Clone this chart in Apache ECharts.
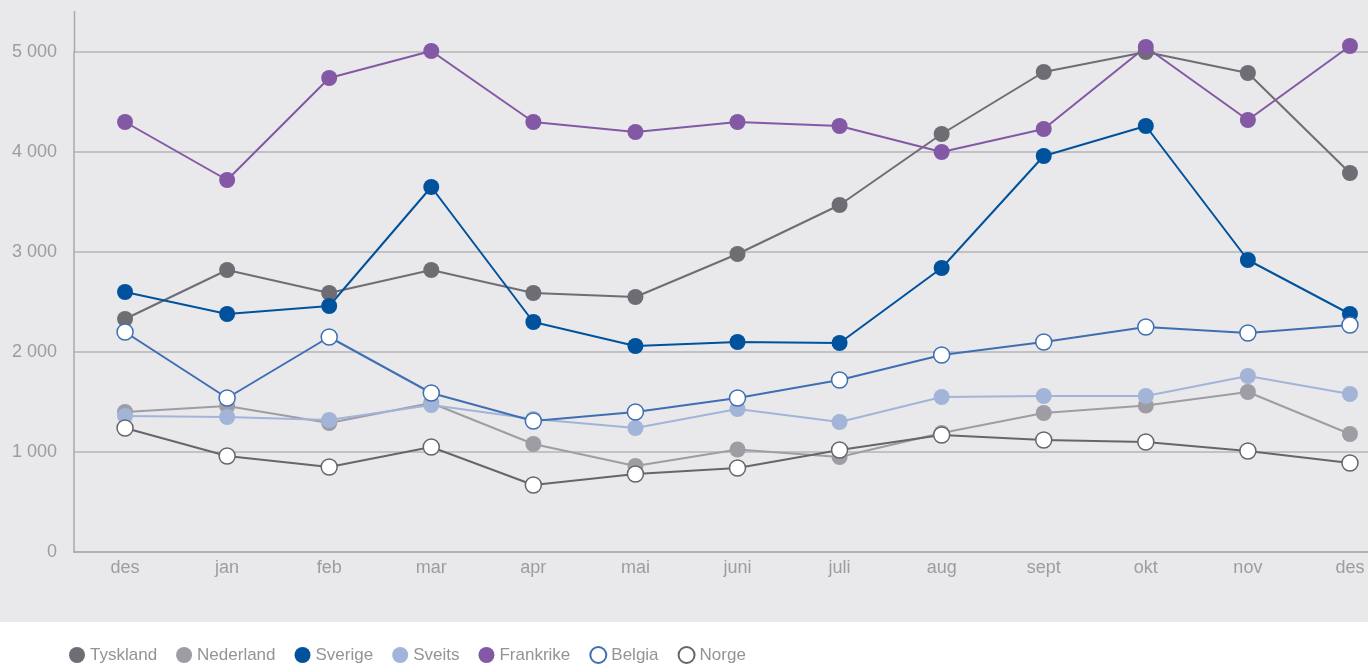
<!DOCTYPE html>
<html>
<head>
<meta charset="utf-8">
<script src="https://cdn.jsdelivr.net/npm/echarts@6/dist/echarts.min.js"></script>
<style>
  html, body { margin: 0; padding: 0; background: #fff; overflow: hidden; }
  /* litt bredere enn vinduet: siste kategori ligger nær høyre kant */
  #chart { width: 1401px; height: 664px; }
</style>
</head>
<body>
<div id="chart"></div>
<script>
// måneder
var months = ['des', 'jan', 'feb', 'mar', 'apr', 'mai', 'juni', 'juli', 'aug', 'sept', 'okt', 'nov', 'des'];
var yTicks = [0, 1000, 2000, 3000, 4000, 5000];

var tyskland  = [2330, 2820, 2590, 2820, 2590, 2550, 2980, 3470, 4180, 4800, 5000, 4790, 3790];
var nederland = [1400, 1460, 1290, 1490, 1080, 860, 1025, 950, 1190, 1390, 1465, 1600, 1180];
var sverige   = [2600, 2380, 2460, 3650, 2300, 2060, 2100, 2090, 2840, 3960, 4260, 2920, 2380];
var sveits    = [1360, 1350, 1320, 1470, 1330, 1240, 1430, 1300, 1550, 1560, 1560, 1760, 1580];
var frankrike = [4300, 3720, 4740, 5010, 4300, 4200, 4300, 4260, 4000, 4230, 5050, 4320, 5060];
var belgia    = [2200, 1540, 2150, 1590, 1310, 1400, 1540, 1720, 1970, 2100, 2250, 2190, 2270];
var norge     = [1240, 960, 850, 1050, 670, 780, 840, 1020, 1170, 1120, 1100, 1010, 890];

var chart = echarts.init(document.getElementById('chart'), null, { renderer: 'canvas' });

var labelColor = '#9c9ca1';
var font = '"Liberation Sans", Roboto, sans-serif';

function fmt(v) {
  return String(v).replace(/\B(?=(\d{3})+(?!\d))/g, ' ');
}

/**
 * lag en linjeserie
 */
function line(name, data, lineColor, fill, border) {
  return {
    name: name,
    type: 'line',
    data: data,
    symbol: 'circle',
    symbolSize: 16,
    showAllSymbol: true,
    clip: false,
    lineStyle: { color: lineColor, width: 2 },
    itemStyle: {
      color: fill,
      borderColor: border || fill,
      borderWidth: border ? 1.5 : 0,
      opacity: 1
    },
    emphasis: { disabled: true },
    animation: false
  };
}

var option = {
  backgroundColor: '#ffffff',
  animation: false,
  textStyle: { fontFamily: font },
  graphic: [
    {
      type: 'rect',
      z: -10,
      silent: true,
      shape: { x: 0, y: 0, width: 1401, height: 622 },
      style: { fill: '#e9e9eb' }
    },
    {
      type: 'line',
      z: 1,
      silent: true,
      shape: { x1: 74.5, y1: 11, x2: 74.5, y2: 52 },
      style: { stroke: '#a9a9ae', lineWidth: 1.5 }
    }
  ],
  grid: {
    left: 74,
    top: 52,
    right: 0,
    bottom: 112,
    containLabel: false
  },
  legend: {
    left: 64,
    top: 641,
    icon: 'circle',
    itemWidth: 16,
    itemHeight: 16,
    itemGap: 19,
    textStyle: { color: '#939398', fontSize: 17, fontFamily: font },
    data: ['Tyskland', 'Nederland', 'Sverige', 'Sveits', 'Frankrike', 'Belgia', 'Norge']
  },
  xAxis: {
    type: 'category',
    data: months,
    boundaryGap: true,
    axisLine: { lineStyle: { color: '#a9a9ae', width: 1.5 } },
    axisTick: { show: false },
    axisLabel: { color: labelColor, fontSize: 18, margin: 7 },
    splitLine: { show: false }
  },
  yAxis: {
    type: 'value',
    min: yTicks[0],
    max: yTicks[yTicks.length - 1],
    interval: 1000,
    axisLine: { show: true, lineStyle: { color: '#a9a9ae', width: 1.5 } },
    axisTick: { show: false },
    axisLabel: {
      color: labelColor,
      fontSize: 18,
      margin: 17,
      formatter: function (v) { return fmt(v); }
    },
    splitLine: { lineStyle: { color: '#b4b4b9', width: 1.5 } }
  },
  series: [
    line('Tyskland', tyskland, '#6e6d74', '#6e6d74'),
    line('Nederland', nederland, '#9e9da4', '#9e9da4'),
    line('Sverige', sverige, '#00529c', '#00529c'),
    line('Sveits', sveits, '#a2b4d8', '#a2b4d8'),
    line('Frankrike', frankrike, '#8358a4', '#8358a4'),
    line('Belgia', belgia, '#3f6fb2', '#ffffff', '#3f6fb2'),
    line('Norge', norge, '#66656b', '#ffffff', '#66656b')
  ]
};

chart.setOption(option);
</script>
</body>
</html>
